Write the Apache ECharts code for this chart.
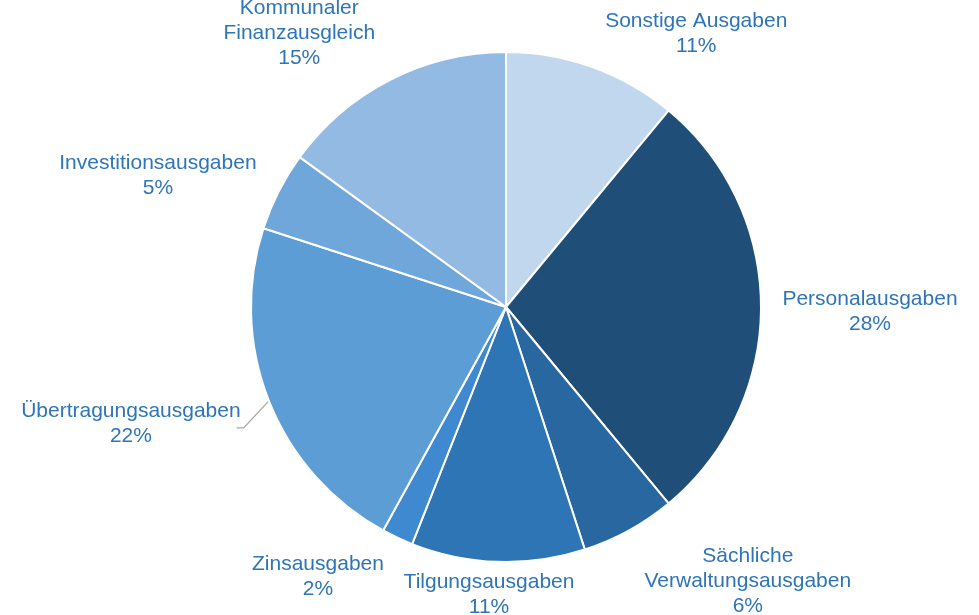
<!DOCTYPE html>
<html>
<head>
<meta charset="utf-8">
<script src="https://cdn.jsdelivr.net/npm/echarts@6/dist/echarts.min.js"></script>
<style>
html, body { margin: 0; padding: 0; background: #fff; }
#main { width: 979px; height: 615px; }
</style>
</head>
<body>
<div id="main"></div>
<script>
// Anteile der Ausgaben in %, im Uhrzeigersinn ab 12 Uhr
var categories = ['Sonstige Ausgaben', 'Personalausgaben', 'Sächliche\nVerwaltungsausgaben', 'Tilgungsausgaben',
    'Zinsausgaben', 'Übertragungsausgaben', 'Investitionsausgaben', 'Kommunaler\nFinanzausgleich'];
var shares = [11, 28, 6, 11, 2, 22, 5, 15];
var colors = ['#c0d7ed', '#1f4e79', '#2967a0', '#2e75b6', '#3f89d0', '#5d9dd6', '#70a7da', '#92bae2'];

// Führungslinien (meist unsichtbar) - nur damit die Texte wie im Original sitzen
var lineLen = [38, 0, 56, 31, 41, 57, 38, 55];
var lineLen2 = [86, 104, 87, 3, 57, 80, 82, 61];

var chart = echarts.init(document.getElementById('main'));

var data = categories.map(function (name, i) {
    return {
        name: name,
        value: shares[i],
        itemStyle: { color: colors[i] },
        labelLine: { show: i === 5, length: lineLen[i], length2: lineLen2[i] }
    };
});

var option = {
    animation: false,
    series: [
        {
            type: 'pie',
            center: [506, 307],
            radius: 255,
            startAngle: 90,
            clockwise: true,
            avoidLabelOverlap: false,
            itemStyle: { borderColor: '#fff', borderWidth: 2 },
            label: {
                position: 'outside',
                formatter: '{b}\n{c}%',
                color: '#2e75b6',
                fontSize: 21,
                lineHeight: 25,
                fontFamily: 'Liberation Sans, Arial, sans-serif',
                distanceToLabelLine: 5
            },
            labelLine: { lineStyle: { color: '#a6a6a6', width: 1.3 } },
            labelLayout: function (p) {
                // Personalausgaben liegt genau bei 3 Uhr, etwas tiefer setzen
                var out = { align: 'center', dy: p.dataIndex === 1 ? 5 : 2 };
                // Übertragungsausgaben: abgeknickte Linie wie im Original
                if (p.dataIndex === 5 && p.labelLinePoints) {
                    var pts = p.labelLinePoints;
                    var endX = pts[2][0] - 5 + p.labelRect.width / 2 - 4;
                    var y = pts[2][1] + 6;
                    out.labelLinePoints = [pts[0], [endX + 7, y], [endX, y]];
                }
                return out;
            },
            data: data
        }
    ]
};

option && chart.setOption(option);
</script>
</body>
</html>
